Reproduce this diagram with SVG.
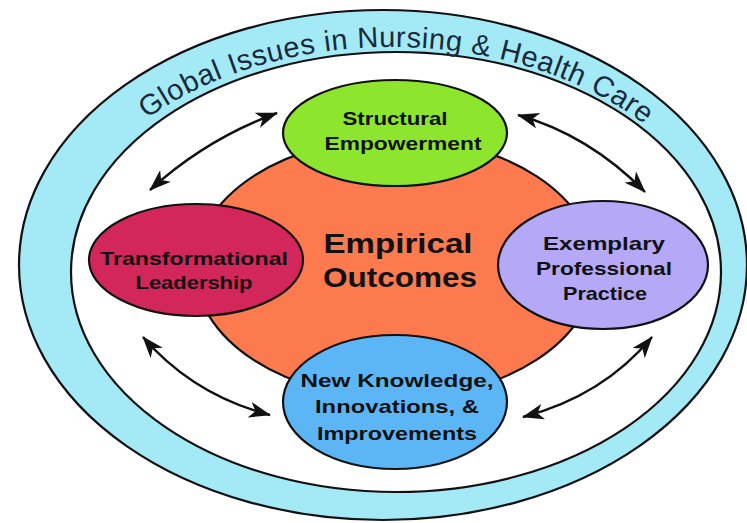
<svg xmlns="http://www.w3.org/2000/svg" width="747" height="523" viewBox="0 0 747 523">
<style>
.ol{stroke:#111;stroke-width:2.2}
.t{font-family:"Liberation Sans",Arial,sans-serif;font-weight:bold;font-size:19px;fill:#111;text-anchor:middle}
.big{font-size:28px}
.ring{font-family:"Liberation Sans",Arial,sans-serif;font-size:29px;fill:#1a2a3a}
.conn{fill:none;stroke:#111;stroke-width:2.4;marker-start:url(#ah);marker-end:url(#ah)}
</style>
<defs>
<marker id="ah" viewBox="0 0 22 16" refX="21" refY="8" markerWidth="22" markerHeight="16" markerUnits="userSpaceOnUse" orient="auto-start-reverse">
<path d="M0,0 L22,8 L0,16 L6,8 z" fill="#111"/>
</marker>
<path id="arc" d="M 57,273 A 335 226 0 0 1 727,273"/>
</defs>
<rect width="747" height="523" fill="#fff"/>
<g id="outer-ring">
<ellipse class="ol" cx="383" cy="265" rx="364" ry="255" fill="#a3e9f6"/>
<ellipse class="ol" cx="396" cy="272" rx="325" ry="220" fill="#fff"/>
<text class="ring"><textPath href="#arc" startOffset="50.5%" text-anchor="middle" textLength="528" lengthAdjust="spacing">Global Issues in Nursing &amp; Health Care</textPath></text>
</g>
<g id="empirical-outcomes">
<ellipse class="ol" cx="395" cy="268" rx="200" ry="130" fill="#fc7a4e"/>
<text class="t big" x="398" y="253" textLength="149" lengthAdjust="spacingAndGlyphs">Empirical</text>
<text class="t big" x="400" y="287" textLength="154" lengthAdjust="spacingAndGlyphs">Outcomes</text>
</g>
<g id="connectors">
<path class="conn" d="M150,190 Q206,139 277,113"/>
<path class="conn" d="M518,115 Q589,135 645,192"/>
<path class="conn" d="M143,337 Q193,395 270,415"/>
<path class="conn" d="M652,337 Q603,396 523,417"/>
</g>
<g id="structural-empowerment">
<ellipse class="ol" cx="395" cy="133" rx="112" ry="53" fill="#8ee52d"/>
<text class="t" x="395" y="125" textLength="105" lengthAdjust="spacingAndGlyphs">Structural</text>
<text class="t" x="403" y="150" textLength="157" lengthAdjust="spacingAndGlyphs">Empowerment</text>
</g>
<g id="transformational-leadership">
<ellipse class="ol" cx="196" cy="260" rx="107" ry="56" fill="#d3275b"/>
<text class="t" x="194" y="265" textLength="188" lengthAdjust="spacingAndGlyphs">Transformational</text>
<text class="t" x="194" y="289" textLength="117" lengthAdjust="spacingAndGlyphs">Leadership</text>
</g>
<g id="exemplary-professional-practice">
<ellipse class="ol" cx="603" cy="265" rx="105" ry="64" fill="#b4a8f7"/>
<text class="t" x="604" y="250" textLength="122" lengthAdjust="spacingAndGlyphs">Exemplary</text>
<text class="t" x="604" y="275" textLength="136" lengthAdjust="spacingAndGlyphs">Professional</text>
<text class="t" x="605" y="300" textLength="84" lengthAdjust="spacingAndGlyphs">Practice</text>
</g>
<g id="new-knowledge">
<ellipse class="ol" cx="395" cy="402" rx="112" ry="67" fill="#5cb6f6"/>
<text class="t" x="397" y="387" textLength="193" lengthAdjust="spacingAndGlyphs">New Knowledge,</text>
<text class="t" x="397" y="413" textLength="164" lengthAdjust="spacingAndGlyphs">Innovations, &amp;</text>
<text class="t" x="397" y="440" textLength="160" lengthAdjust="spacingAndGlyphs">Improvements</text>
</g>
</svg>
